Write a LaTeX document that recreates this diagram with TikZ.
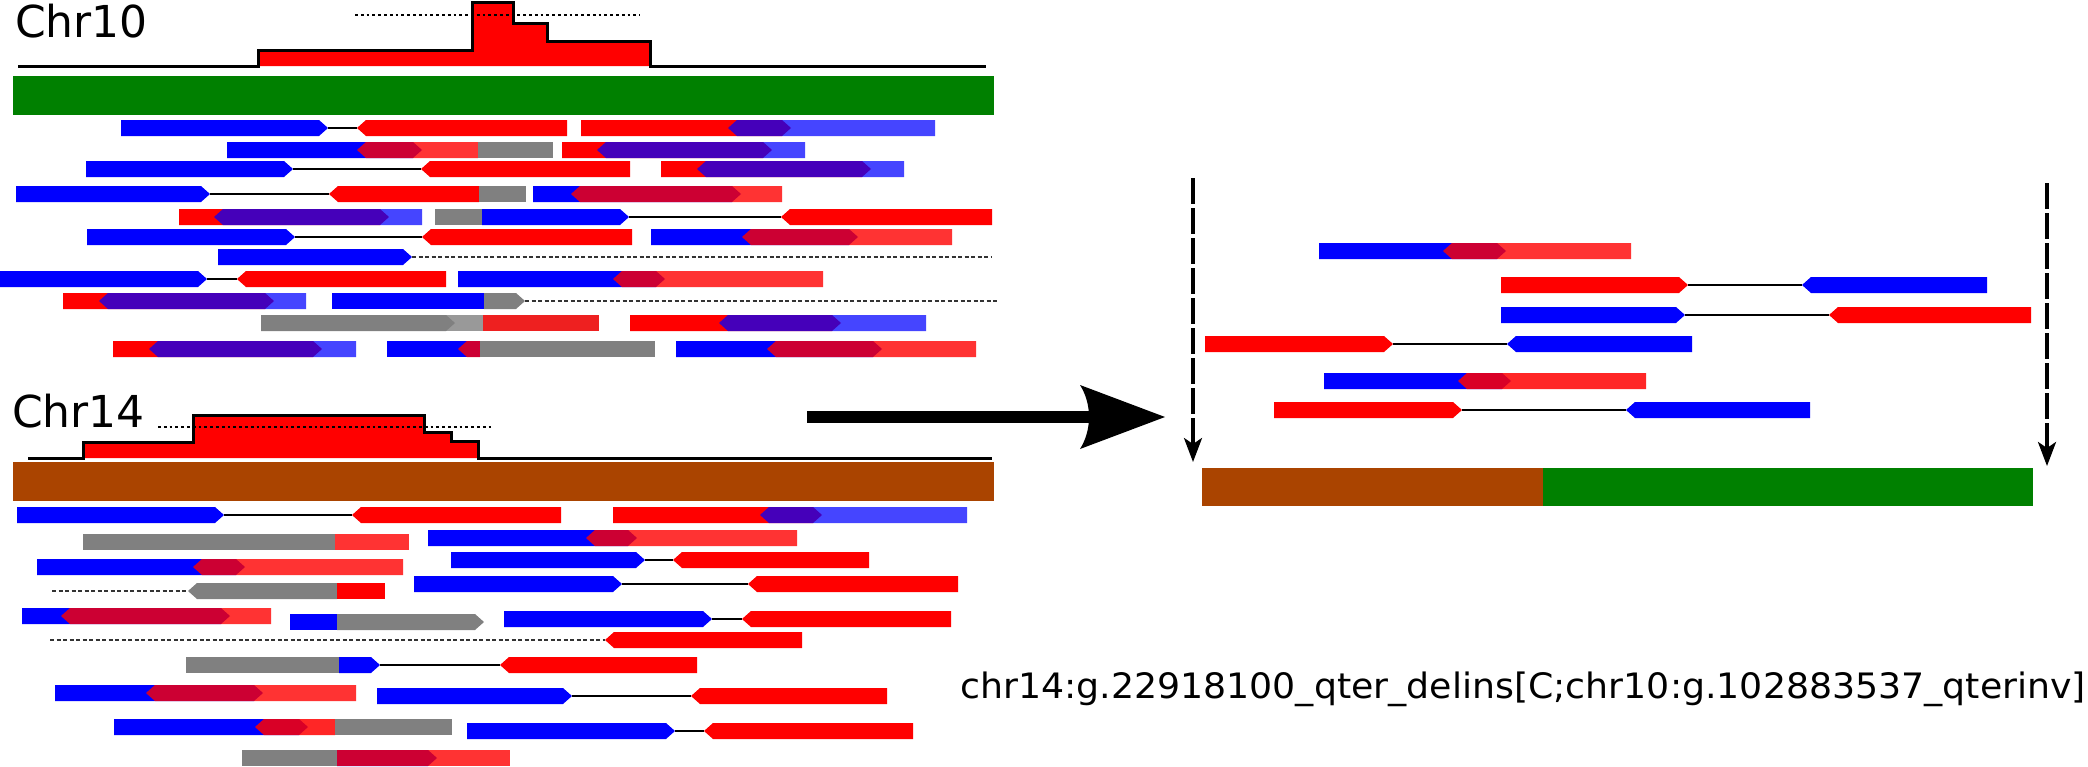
\documentclass[tikz,border=0pt]{standalone}
\usepackage{fontspec}
\usetikzlibrary{arrows.meta}
\newfontfamily\labfont{DejaVu Sans}
\newfontfamily\hgvsfont{DejaVu Sans}
\definecolor{chrgreen}{HTML}{008000}
\definecolor{chrbrown}{HTML}{AA4400}
\definecolor{covred}{HTML}{FF0000}
\definecolor{lgray}{HTML}{999999}
\definecolor{jred}{HTML}{EE2020}
\definecolor{lred}{HTML}{FF3333}
% read shapes: style, x-left, x-right, y-top
\newcommand\rdF[4]{\fill[#1] (#2,#4) -- ({#3-9},#4) -- (#3,{#4+8}) -- ({#3-9},{#4+16}) -- (#2,{#4+16}) -- cycle;}
\newcommand\rdR[4]{\fill[#1] (#2,{#4+8}) -- ({#2+9},#4) -- (#3,#4) -- (#3,{#4+16}) -- ({#2+9},{#4+16}) -- cycle;}
\newcommand\rdB[4]{\fill[#1] (#2,#4) rectangle (#3,{#4+16});}
\newcommand\rdL[3]{\draw[pairline] (#1,{#3+8}) -- (#2,{#3+8});}
\newcommand\rdD[3]{\draw[mateline] (#1,{#3+8}) -- (#2,{#3+8});}
\tikzset{
  bl/.style={fill=blue},
  rd/.style={fill=red},
  gr/.style={fill=gray},
  blt/.style={fill=blue, fill opacity=0.73},
  rdt/.style={fill=red, fill opacity=0.8},
  pairline/.style={line width=1.6pt, black},
  mateline/.style={line width=1.6pt, black!80, dash pattern=on 4pt off 2.5pt},
  covline/.style={line width=3pt, black, line join=miter},
  covdots/.style={line width=2.8pt, black, dash pattern=on 2.8pt off 3pt},
  darrow/.style={line width=3.3pt, black, dash pattern=on 26pt off 4pt, -{Stealth[length=24pt,width=18pt,inset=6pt]}},
  chrlab/.style={anchor=base west, inner sep=0pt, font=\labfont\fontsize{44}{44}\selectfont},
}
\begin{document}
\begin{tikzpicture}[x=1pt,y=-1pt]
\useasboundingbox (0,0) rectangle (2088,766);
% ---------------- Chr10 ----------------
\node[chrlab] (chr10) at (15,37) {Chr10};
\fill[covred] (258,66) -- (258,50) -- (472,50) -- (472,2) -- (513,2) -- (513,23) -- (547,23) -- (547,41) -- (650,41) -- (650,66) -- cycle;
\draw[covline] (18,66) -- (258,66) -- (258,50) -- (472,50) -- (472,2) -- (513,2) -- (513,23) -- (547,23) -- (547,41) -- (650,41) -- (650,66) -- (986,66);
\draw[covdots] (355,15) -- (640,15);
\fill[chrgreen] (13,76) rectangle (994,115);
% row A
\rdL{328}{357}{120}
\rdF{bl}{121}{328}{120} \rdR{rd}{357}{567}{120}
\rdF{rd}{581}{791}{120} \rdR{blt}{728}{935}{120}
% row B
\rdF{bl}{227}{422}{142} \rdR{rdt}{357}{478}{142} \rdB{gr}{478}{553}{142}
\rdF{rd}{562}{772}{142} \rdR{blt}{597}{805}{142}
% row C
\rdL{293}{421}{161}
\rdF{bl}{86}{293}{161} \rdR{rd}{421}{630}{161}
\rdF{rd}{661}{871}{161} \rdR{blt}{697}{904}{161}
% row D
\rdL{210}{329}{186}
\rdF{bl}{16}{210}{186} \rdR{rd}{329}{479}{186} \rdB{gr}{479}{526}{186}
\rdF{bl}{533}{741}{186} \rdR{rdt}{571}{782}{186}
% row E
\rdF{rd}{179}{389}{209} \rdR{blt}{214}{422}{209}
\rdL{629}{781}{209}
\rdB{gr}{435}{482}{209} \rdF{bl}{482}{629}{209} \rdR{rd}{781}{992}{209}
% row F
\rdL{295}{422}{229}
\rdF{bl}{87}{295}{229} \rdR{rd}{422}{632}{229}
\rdF{bl}{651}{858}{229} \rdR{rdt}{742}{952}{229}
% row G
\rdD{412}{992}{249}
\rdF{bl}{218}{412}{249}
% row H
\rdL{207}{237}{271}
\rdF{bl}{0}{207}{271} \rdR{rd}{237}{446}{271}
\rdF{bl}{458}{665}{271} \rdR{rdt}{613}{823}{271}
% row I
\rdF{rd}{63}{274}{293} \rdR{blt}{99}{306}{293}
\rdD{525}{997}{293}
\rdB{bl}{332}{484}{293} \rdF{gr}{484}{525}{293}
% row J
\rdB{fill=lgray}{410}{483}{315} \rdF{gr}{261}{455}{315} \rdB{fill=jred}{483}{599}{315}
\rdF{rd}{630}{841}{315} \rdR{blt}{719}{926}{315}
% row K
\rdF{rd}{113}{322}{341} \rdR{blt}{149}{356}{341}
\rdB{bl}{387}{480}{341} \rdR{rdt}{458}{480}{341} \rdB{gr}{480}{655}{341}
\rdF{bl}{676}{882}{341} \rdR{rdt}{767}{976}{341}
% ---------------- Chr14 ----------------
\node[chrlab] (chr14) at (12,427) {Chr14};
\fill[covred] (83,458) -- (83,442) -- (193,442) -- (193,415) -- (424,415) -- (424,432) -- (451,432) -- (451,441) -- (478,441) -- (478,458) -- cycle;
\draw[covline] (28,458) -- (83,458) -- (83,442) -- (193,442) -- (193,415) -- (424,415) -- (424,432) -- (451,432) -- (451,441) -- (478,441) -- (478,458) -- (992,458);
\draw[covdots] (158,427) -- (492,427);
\fill[chrbrown] (13,462) rectangle (994,501);
% row a
\rdL{224}{352}{507}
\rdF{bl}{17}{224}{507} \rdR{rd}{352}{561}{507}
\rdF{rd}{613}{822}{507} \rdR{blt}{760}{967}{507}
% row b
\rdB{gr}{83}{335}{534} \rdB{fill=lred}{335}{409}{534}
\rdF{bl}{428}{637}{530} \rdR{rdt}{586}{797}{530}
% row c
\rdL{645}{673}{552}
\rdF{bl}{451}{645}{552} \rdR{rd}{673}{869}{552}
% row d
\rdF{bl}{37}{245}{559} \rdR{rdt}{193}{403}{559}
% row e
\rdL{622}{748}{576}
\rdF{bl}{414}{622}{576} \rdR{rd}{748}{958}{576}
% row f
\rdD{52}{188}{583}
\rdR{gr}{188}{337}{583} \rdB{rd}{337}{385}{583}
% row g
\rdF{bl}{22}{230}{608} \rdR{rdt}{61}{271}{608}
% row h
\rdB{bl}{290}{337}{614} \rdF{gr}{337}{484}{614}
% row i
\rdL{712}{742}{611}
\rdF{bl}{504}{712}{611} \rdR{rd}{742}{951}{611}
% row j
\rdD{50}{605}{632}
\rdR{rd}{605}{802}{632}
% row k
\rdL{380}{500}{657}
\rdB{gr}{186}{339}{657} \rdF{bl}{339}{380}{657} \rdR{rd}{500}{697}{657}
% row l
\rdF{bl}{55}{263}{685} \rdR{rdt}{146}{356}{685}
\rdL{572}{691}{688}
\rdF{bl}{377}{572}{688} \rdR{rd}{691}{887}{688}
% row m
\rdF{bl}{114}{308}{719} \rdR{fill=red, fill opacity=0.85}{255}{335}{719} \rdB{gr}{335}{452}{719}
\rdL{675}{704}{723}
\rdF{bl}{467}{675}{723} \rdR{rd}{704}{913}{723}
% row n
\rdB{gr}{242}{337}{750} \rdF{bl}{337}{437}{750} \rdB{rdt}{337}{510}{750}
% ---------------- arrow ----------------
\coordinate (arrS) at (807,417);
\coordinate (arrT) at (1165,417);
\fill (arrS) ++(0,-6) rectangle (1090,423);
\fill (1080,385) -- (arrT) -- (1080,449) .. controls (1092,430) and (1092,404) .. (1080,385) -- cycle;
% ---------------- right panel ----------------
\coordinate (la1) at (1193,178); \coordinate (la2) at (1193,462);
\coordinate (ra1) at (2047,183); \coordinate (ra2) at (2047,466);
\draw[darrow] (la1) -- (la2);
\draw[darrow] (ra1) -- (ra2);
\fill[chrbrown] (1202,468) rectangle (1543,506);
\fill[chrgreen] (1543,468) rectangle (2033,506);
% R1
\rdF{bl}{1319}{1506}{243} \rdR{rdt}{1443}{1631}{243}
% R2
\rdL{1688}{1802}{277}
\rdF{rd}{1501}{1688}{277} \rdR{bl}{1802}{1987}{277}
% R3
\rdL{1685}{1829}{307}
\rdF{bl}{1501}{1685}{307} \rdR{rd}{1829}{2031}{307}
% R4
\rdL{1393}{1507}{336}
\rdF{rd}{1205}{1393}{336} \rdR{bl}{1507}{1692}{336}
% R5
\rdF{bl}{1324}{1511}{373} \rdR{fill=red, fill opacity=0.85}{1458}{1646}{373}
% R6
\rdL{1462}{1626}{402}
\rdF{rd}{1274}{1462}{402} \rdR{bl}{1626}{1810}{402}
% HGVS text
\node[anchor=base west, inner sep=0pt] (hgvs) at (960,698) {\resizebox{1126pt}{\height}{\hgvsfont\fontsize{35}{35}\selectfont chr14:g.22918100\_qter\_delins[C;chr10:g.102883537\_qterinv]}};
\end{tikzpicture}
\end{document}
